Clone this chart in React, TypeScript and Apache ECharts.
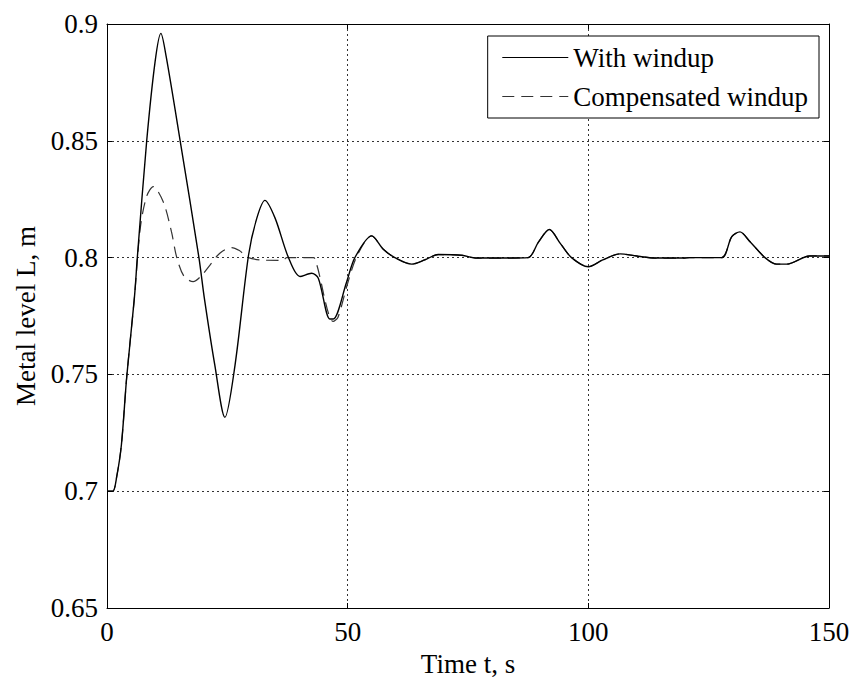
import React, { useEffect, useRef } from "react";
import * as echarts from "echarts";

// Time (s) and metal level (m) — "With windup"
const timeWith = [0, 1.2, 2.0, 3.0, 4.1, 5.7, 6.3, 8.25, 10.0, 11.2, 12.3, 15.2, 19.1, 20.2, 22.4, 24.5, 26.6, 29.4, 31.1, 32.8, 34.9, 37.7, 40.1, 42.5, 43.9, 46.3, 47.0, 49.8, 51.5];
const levelWith = [0.7, 0.7, 0.706, 0.72, 0.749, 0.783, 0.8, 0.85, 0.884, 0.896, 0.886, 0.85, 0.8, 0.783, 0.754, 0.7316, 0.754, 0.801, 0.8167, 0.8245, 0.817, 0.8, 0.7919, 0.7933, 0.7912, 0.7737, 0.7737, 0.7897, 0.8];

// "Compensated windup"
const timeComp = [0, 1.2, 2.0, 3.0, 4.1, 5.7, 6.9, 8.2, 9.6, 11.7, 13.4, 14.5, 16.0, 17.9, 19.5, 21.4, 23.5, 25.9, 27.5, 29.4, 32.5, 36.6, 37.3, 42.9, 43.6, 47.0, 48.0, 50.0, 52.0];
const levelComp = [0.7, 0.7, 0.706, 0.72, 0.749, 0.783, 0.8124, 0.826, 0.8304, 0.8238, 0.811, 0.8, 0.792, 0.7897, 0.792, 0.7968, 0.802, 0.8043, 0.803, 0.8, 0.7989, 0.7988, 0.8, 0.8, 0.7968, 0.7727, 0.7745, 0.789, 0.801];

// Common tail: both responses coincide after ~55 s
const timeTail = [55.0, 57.4, 59.8, 63.3, 66.0, 68.8, 73.7, 76.8, 82.3, 87.5, 89.6, 91.9, 94.2, 96.5, 100, 103, 106.6, 110, 113.9, 119.7, 121, 127.7, 129.8, 131.5, 133.5, 136.7, 139.1, 141.2, 146, 150];
const levelTail = [0.8093, 0.8036, 0.8, 0.7972, 0.799, 0.8013, 0.801, 0.7998, 0.7998, 0.8, 0.8065, 0.812, 0.806, 0.8, 0.7961, 0.799, 0.8016, 0.8007, 0.7998, 0.7998, 0.8, 0.8, 0.809, 0.811, 0.807, 0.8, 0.7972, 0.7972, 0.8007, 0.8007];

const xTicks = { min: 0, max: 150, interval: 50 };
const yTicks = { min: 0.65, max: 0.9, interval: 0.05 };

const seriesNames = ["With windup", "Compensated windup"];

const FONT = "Liberation Serif, Times New Roman, serif";

function pairs(t: number[], v: number[]) {
  return t.map((x, i) => [x, v[i]]);
}

export default function App() {
  const ref = useRef<HTMLDivElement>(null);
  useEffect(() => {
    if (!ref.current) return;
    const chart = echarts.init(ref.current, null, { renderer: "svg" });
    const tailPairs = pairs(timeTail, levelTail);
    const axisCommon = {
      axisLine: { show: true, onZero: false, lineStyle: { color: "#000", width: 1 } },
      axisTick: { show: true, inside: true, length: 5, lineStyle: { color: "#000" } },
    };
    chart.setOption({
      animation: false,
      backgroundColor: "#fff",
      textStyle: { fontFamily: FONT, color: "#000" },
      grid: { left: 107, top: 24, right: 26, bottom: 70, containLabel: false },
      legend: {
        orient: "vertical",
        right: 36,
        top: 36,
        data: seriesNames,
        itemWidth: 66,
        itemHeight: 27,
        itemGap: 12,
        padding: [8, 11, 8, 14],
        borderColor: "#000",
        borderWidth: 1,
        backgroundColor: "#fff",
        itemStyle: { opacity: 0 },
        lineStyle: { width: 1.2 },
        textStyle: { fontFamily: FONT, fontSize: 27, color: "#000", padding: [0, 0, 0, 0] },
      },
      xAxis: [
        {
          type: "value",
          ...xTicks,
          ...axisCommon,
          name: "Time t, s",
          nameLocation: "middle",
          nameGap: 42,
          nameTextStyle: { fontFamily: FONT, fontSize: 27, color: "#000" },
          axisLabel: { fontFamily: FONT, fontSize: 27, color: "#000", margin: 10 },
          splitLine: { show: true, lineStyle: { color: "#333", type: [2, 3], width: 1 } },
        },
        {
          type: "value",
          position: "top",
          ...xTicks,
          ...axisCommon,
          axisLabel: { show: false },
          splitLine: { show: false },
        },
      ],
      yAxis: [
        {
          type: "value",
          ...yTicks,
          ...axisCommon,
          name: "Metal level L, m",
          nameLocation: "middle",
          nameGap: 66,
          nameTextStyle: { fontFamily: FONT, fontSize: 27, color: "#000" },
          axisLabel: { fontFamily: FONT, fontSize: 27, color: "#000", margin: 9 },
          splitLine: { show: true, lineStyle: { color: "#333", type: [2, 3], width: 1 } },
        },
        {
          type: "value",
          position: "right",
          ...yTicks,
          ...axisCommon,
          axisLabel: { show: false },
          splitLine: { show: false },
        },
      ],
      series: [
        {
          name: seriesNames[0],
          type: "line",
          xAxisIndex: 0,
          yAxisIndex: 0,
          symbol: "none",
          smooth: 0.3,
          lineStyle: { color: "#000", width: 1.4 },
          itemStyle: { color: "#000" },
          data: [...pairs(timeWith, levelWith), ...tailPairs],
          z: 3,
        },
        {
          name: seriesNames[1],
          type: "line",
          xAxisIndex: 0,
          yAxisIndex: 0,
          symbol: "none",
          smooth: 0.3,
          lineStyle: { color: "#333", width: 1.2, type: [12, 7] },
          itemStyle: { color: "#333" },
          data: [...pairs(timeComp, levelComp), ...tailPairs],
          z: 2,
        },
      ],
    });
    return () => chart.dispose();
  }, []);
  return (
    <div
      ref={ref}
      style={{ position: "fixed", left: 0, top: 0, width: 855, height: 682, background: "#fff" }}
    />
  );
}
